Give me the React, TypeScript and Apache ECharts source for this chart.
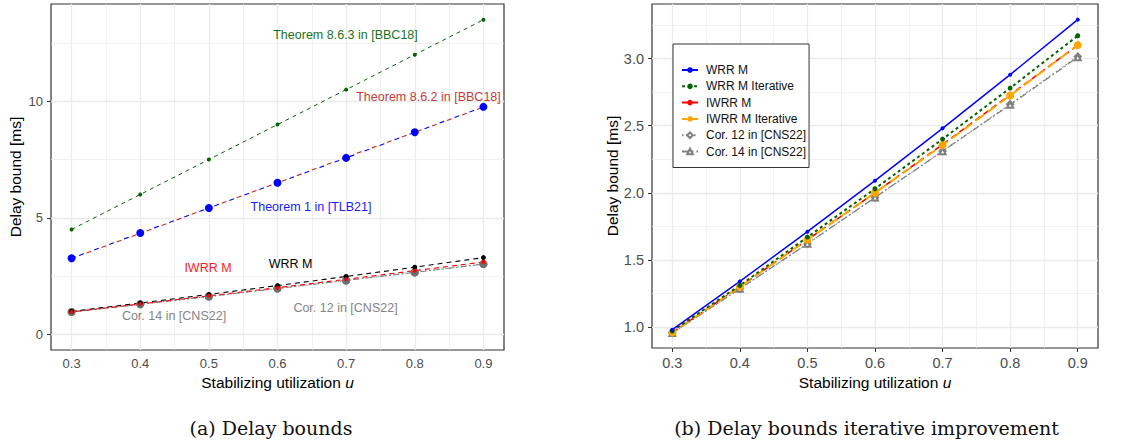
import React, { useEffect, useRef } from "react";
import * as echarts from "echarts";

// ---------- data ----------
const U = [0.3, 0.4, 0.5, 0.6, 0.7, 0.8, 0.9];
const X_TICKS = [0.3, 0.4, 0.5, 0.6, 0.7, 0.8, 0.9];
const X_MINOR = [0.35, 0.45, 0.55, 0.65, 0.75, 0.85];

// (a) Delay bounds
const THM_863 = [4.5, 6.0, 7.5, 9.0, 10.5, 12.0, 13.5];
const THM_862 = [3.25, 4.33, 5.42, 6.5, 7.6, 8.67, 9.75];
const THM_1 = [3.26, 4.35, 5.42, 6.5, 7.57, 8.67, 9.76];
const A_Y_TICKS = [0, 5, 10];
const A_Y_MINOR = [2.5, 7.5, 12.5];

// (b) iterative improvement (also used in (a) lower group)
const WRR_M = [0.98, 1.34, 1.71, 2.09, 2.48, 2.88, 3.29];
const WRR_M_IT = [0.97, 1.31, 1.67, 2.03, 2.4, 2.78, 3.17];
const IWRR_M = [0.96, 1.3, 1.65, 2.0, 2.36, 2.73, 3.1];
const IWRR_M_IT = [0.96, 1.3, 1.65, 2.0, 2.355, 2.725, 3.1];
const COR_12 = [0.955, 1.285, 1.62, 1.965, 2.31, 2.66, 3.015];
const COR_14 = [0.955, 1.285, 1.62, 1.965, 2.31, 2.655, 3.01];
const B_Y_TICKS = [1.0, 1.5, 2.0, 2.5, 3.0];
const B_Y_MINOR = [1.25, 1.75, 2.25, 2.75, 3.25];

const LEGEND = [
  "WRR M",
  "WRR M Iterative",
  "IWRR M",
  "IWRR M Iterative",
  "Cor. 12 in [CNS22]",
  "Cor. 14 in [CNS22]",
];

const FONT = "Liberation Sans, Arial, Helvetica, sans-serif";
const SERIF = "DejaVu Serif, Liberation Serif, serif";

const pts = (ys: number[]) => U.map((u, i) => [u, ys[i]]);

function gridSeries(xi: number, minorX: number[], minorY: number[], majorX: number[], majorY: number[]) {
  const mk = (xs: number[], ys: number[], width: number) => ({
    type: "line",
    xAxisIndex: xi,
    yAxisIndex: xi,
    data: [],
    silent: true,
    markLine: {
      silent: true,
      z: 1,
      symbol: "none",
      animation: false,
      label: { show: false },
      emphasis: { disabled: true },
      lineStyle: { color: "#ebebeb", width, type: "solid" },
      data: [...xs.map((v) => ({ xAxis: v })), ...ys.map((v) => ({ yAxis: v }))],
    },
  });
  return [mk(minorX, minorY, 0.7), mk(majorX, majorY, 1.3)];
}

function lineSeries(
  name: string,
  xi: number,
  ys: number[],
  color: string,
  width: number,
  type: any,
  symbol: string,
  size: number,
  extra: any = {}
) {
  return {
    name,
    type: "line",
    xAxisIndex: xi,
    yAxisIndex: xi,
    data: pts(ys),
    z: 3,
    symbol,
    symbolSize: size,
    showSymbol: true,
    lineStyle: { color, width, type, ...(extra.lineStyle || {}) },
    itemStyle: { color, borderColor: color, borderWidth: symbol.startsWith("empty") ? 1 : 0, ...(extra.itemStyle || {}) },
    emphasis: { disabled: true },
  };
}

function axisX(gi: number, fs: number) {
  return {
    type: "value",
    gridIndex: gi,
    min: 0.27,
    max: 0.93,
    axisLine: { show: false },
    axisTick: { show: true, length: 4, customValues: X_TICKS, lineStyle: { color: "#333333", width: 1 } },
    axisLabel: {
      customValues: X_TICKS,
      formatter: (v: number) => v.toFixed(1),
      color: "#4d4d4d",
      fontSize: fs,
      fontFamily: FONT,
      margin: 7,
    },
    splitLine: { show: false },
  };
}

function axisY(gi: number, min: number, max: number, ticks: number[], fmt: (v: number) => string, fs: number) {
  return {
    type: "value",
    gridIndex: gi,
    min,
    max,
    axisLine: { show: false },
    axisTick: { show: true, length: 4, customValues: ticks, lineStyle: { color: "#333333", width: 1 } },
    axisLabel: {
      customValues: ticks,
      formatter: fmt,
      color: "#4d4d4d",
      fontSize: fs,
      fontFamily: FONT,
      margin: 8,
    },
    splitLine: { show: false },
  };
}

function txt(text: string, x: number, y: number, color: string, size: number, extra: any = {}) {
  return {
    type: "text",
    x,
    y,
    z: 10,
    silent: true,
    ...extra,
    style: {
      text,
      fill: color,
      fontSize: size,
      fontFamily: FONT,
      align: "center",
      verticalAlign: "middle",
      ...(extra.style || {}),
    },
  };
}

function xTitle(x: number, y: number) {
  return {
    type: "text",
    x,
    y,
    z: 10,
    silent: true,
    style: {
      text: "{n|Stabilizing utilization }{i|u}",
      fill: "#000",
      fontSize: 15.5,
      fontFamily: FONT,
      align: "center",
      verticalAlign: "middle",
      rich: {
        n: { fontSize: 15.5, fontFamily: FONT, fill: "#000" },
        i: { fontSize: 15.5, fontFamily: FONT, fill: "#000", fontStyle: "italic" },
      },
    },
  };
}

export default function App() {
  const ref = useRef<HTMLDivElement>(null);

  useEffect(() => {
    document.body.style.margin = "0";
    if (!ref.current) return;
    const chart = echarts.init(ref.current, undefined, { renderer: "svg" });

    const GREEN = "#006400";
    const BLUE = "#0000ff";
    const FIRE = "#cd2626";
    const RED = "#ff0000";
    const ORANGE = "#ffa500";
    const GRAY = "#7f7f7f";
    const DGRAY = "#6f6f6f";

    const option: any = {
      animation: false,
      backgroundColor: "#ffffff",
      grid: [
        { left: 51, top: 4, width: 453, height: 346, show: true, backgroundColor: "#fff", borderColor: "#333333", borderWidth: 1.2 },
        { left: 652, top: 4, width: 446, height: 344, show: true, backgroundColor: "#fff", borderColor: "#333333", borderWidth: 1.2 },
      ],
      xAxis: [axisX(0, 13), axisX(1, 14.5)],
      yAxis: [
        axisY(0, -0.675, 14.175, A_Y_TICKS, (v: number) => String(v), 13),
        axisY(1, 0.8435, 3.4065, B_Y_TICKS, (v: number) => v.toFixed(1), 14.5),
      ],
      legend: {
        data: LEGEND,
        orient: "vertical",
        left: 673,
        top: 44,
        padding: [20, 3, 10, 8],
        itemWidth: 16,
        itemHeight: 7,
        itemGap: 4.3,
        backgroundColor: "#ffffff",
        borderColor: "#333333",
        borderWidth: 1,
        borderRadius: 0,
        selectedMode: false,
        textStyle: { color: "#111", fontSize: 12, fontFamily: FONT, padding: [0, 0, 0, 3] },
      },
      series: [
        ...gridSeries(0, X_MINOR, A_Y_MINOR, X_TICKS, A_Y_TICKS),
        ...gridSeries(1, X_MINOR, B_Y_MINOR, X_TICKS, B_Y_TICKS),
        // ----- (a) -----
        lineSeries("Theorem 8.6.3 in [BBC18]", 0, THM_863, GREEN, 1, [4, 4], "circle", 4),
        lineSeries("Theorem 8.6.2 in [BBC18]", 0, THM_862, FIRE, 1.1, [5, 11], "triangle", 5),
        lineSeries("Theorem 1 in [TLB21]", 0, THM_1, BLUE, 1.1, [5, 11], "circle", 8, {
          lineStyle: { dashOffset: 8 },
        }),
        lineSeries("Cor. 12 (a)", 0, COR_12, GRAY, 1, [1.5, 2.5], "circle", 8, {
          itemStyle: { color: DGRAY },
        }),
        lineSeries("Cor. 14 (a)", 0, COR_14, GRAY, 1, [6, 3, 1.5, 3], "circle", 8, {
          itemStyle: { color: DGRAY },
        }),
        lineSeries("WRR M (a)", 0, WRR_M, "#000000", 1.1, [5, 4], "circle", 5),
        lineSeries("IWRR M (a)", 0, IWRR_M, RED, 1.1, [5, 4], "circle", 4, {
          lineStyle: { dashOffset: 4 },
        }),
        // ----- (b) -----
        lineSeries("Cor. 12 in [CNS22]", 1, COR_12, GRAY, 1.2, [1.5, 2.5], "emptyDiamond", 6),
        lineSeries("Cor. 14 in [CNS22]", 1, COR_14, GRAY, 1.2, [7, 3, 1.5, 3], "emptyTriangle", 6),
        lineSeries("IWRR M", 1, IWRR_M, RED, 1.6, [6, 4], "circle", 6),
        lineSeries("IWRR M Iterative", 1, IWRR_M_IT, ORANGE, 2, [10, 5], "circle", 8, {
          lineStyle: { dashOffset: 5 },
        }),
        lineSeries("WRR M Iterative", 1, WRR_M_IT, GREEN, 2, [3, 3], "circle", 5),
        lineSeries("WRR M", 1, WRR_M, BLUE, 1.5, "solid", "circle", 4),
      ],
      graphic: [
        // axis titles
        txt("Delay bound [ms]", 15.5, 177, "#000", 15.5, { rotation: Math.PI / 2 }),
        txt("Delay bound [ms]", 612, 176, "#000", 15.5, { rotation: Math.PI / 2 }),
        xTitle(277.5, 382.7),
        xTitle(875, 382),
        // annotations (a)
        txt("Theorem 8.6.3 in [BBC18]", 345.5, 35, "#1a731a", 12.5),
        txt("Theorem 8.6.2 in [BBC18]", 428.5, 96.7, "#c43a3a", 12.5),
        txt("Theorem 1 in [TLB21]", 311, 206.7, "#1a1aff", 12.5),
        txt("IWRR M", 208, 268.3, "#ff1a1a", 12.5),
        txt("WRR M", 290.5, 264, "#000000", 12.5),
        txt("Cor. 14 in [CNS22]", 174, 315.7, "#858585", 12.5),
        txt("Cor. 12 in [CNS22]", 345.5, 308.3, "#858585", 12.5),
        // captions
        txt("(a) Delay bounds", 271, 428, "#111", 19, { style: { fontFamily: SERIF } }),
        txt("(b) Delay bounds iterative improvement", 866.5, 428, "#111", 19, { style: { fontFamily: SERIF } }),
      ],
    };

    chart.setOption(option);
    return () => chart.dispose();
  }, []);

  return <div ref={ref} style={{ width: 1140, height: 441 }} />;
}
